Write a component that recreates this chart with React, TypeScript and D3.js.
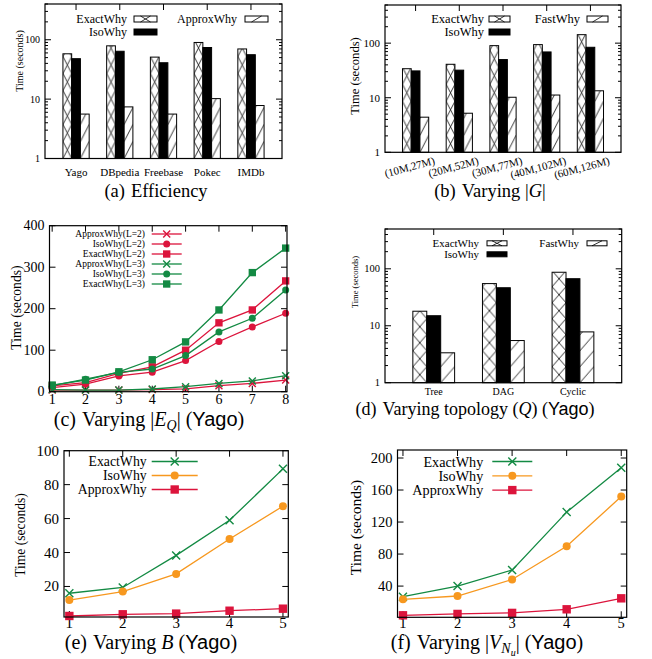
import React from "react";
import * as d3 from "d3";

// (a) efficiency per dataset
const effCats = ["Yago", "DBpedia", "Freebase", "Pokec", "IMDb"];
const effExact = [58, 79, 51, 90, 70];
const effIso = [48, 64, 41, 74, 56];
const effApprox = [5.6, 7.4, 5.6, 10.2, 7.8];

// (b) varying |G|
const sizeCats = ["(10M,27M)", "(20M,52M)", "(30M,77M)", "(40M,102M)", "(60M,126M)"];
const sizeExact = [34, 41, 90, 94, 143];
const sizeIso = [31, 32, 50, 69, 84];
const sizeFast = [4.4, 5.2, 10.2, 11.2, 13.4];

// (d) varying topology
const topoCats = ["Tree", "DAG", "Cyclic"];
const topoExact = [18, 55, 87];
const topoIso = [15, 46.5, 67];
const topoFast = [3.35, 5.5, 7.8];

// (c) varying |E_Q|
const eqSizes = [1, 2, 3, 4, 5, 6, 7, 8];
const approxL2 = [4, 4, 4, 5, 7, 14.5, 20, 28];
const isoL2 = [10, 18, 38, 47, 75, 121, 156, 189];
const exactL2 = [14, 22, 44, 60, 100, 166, 197, 267];
const approxL3 = [5, 4, 4, 6.5, 12, 20, 26, 38.5];
const isoL3 = [14.5, 30, 46.7, 54.7, 87, 144, 177, 245];
const exactL3 = [16, 28, 48, 77, 120, 197, 287, 346];

// (e) varying B
const bSteps = [1, 2, 3, 4, 5];
const bExact = [16, 19.4, 38.3, 59, 89.3];
const bIso = [12, 17, 27.4, 48, 67.3];
const bApprox = [2.6, 3.6, 4, 5.7, 6.9];

// (f) varying |V_Nu|
const vSteps = [1, 2, 3, 4, 5];
const vExact = [26.8, 40, 60, 132.4, 187.8];
const vIso = [23.5, 27.6, 48.3, 89.7, 151.8];
const vApprox = [3.5, 5.2, 6.5, 11, 24.7];

const eqTimeTicks = [0, 100, 200, 300, 400];
const bTimeTicks = [20, 40, 60, 80, 100];
const vTimeTicks = [40, 80, 120, 160, 200];

const RED = "#dc143c";
const GREEN = "#138a43";
const ORANGE = "#f7981f";
const SERIF = "'Liberation Serif', 'Times New Roman', serif";
const SANS = "'Liberation Sans', Arial, sans-serif";

type LegendSpot = { textEnd: number; swX: number; y: number };

type BarPanelProps = {
  id: string;
  cats: string[];
  series: number[][];
  names: string[];
  box: [number, number, number, number];
  yMax: number;
  xDom: [number, number];
  cellH: number;
  tickFont: number;
  catFont: number;
  catY: number;
  rotateCats?: boolean;
  yLabel: { x: number; y: number; font: number };
  legend: LegendSpot[];
  swW: number;
  swH: number;
  legendFont: number;
};

function BarPanel(p: BarPanelProps) {
  const [x0, y0, x1, y1] = p.box;
  const xs = d3.scaleLinear().domain(p.xDom).range([x0, x1]);
  const ys = d3.scaleLog().domain([1, p.yMax]).range([y1, y0]);
  const bw = 0.2;

  // log ticks: majors at decades, minors at 2..9
  const ticks: { v: number; major: boolean }[] = [];
  for (const d of [1, 10, 100]) {
    for (let k = 1; k <= 9; k++) {
      const v = k * d;
      if (v <= p.yMax) ticks.push({ v, major: k === 1 });
    }
  }

  const bars = p.cats.flatMap((c, i) =>
    p.series.map((vals, s) => {
      const a = xs(i + (s - 1.5) * bw);
      const b = xs(i + (s - 0.5) * bw);
      return { key: `${i}-${s}`, s, x: a, w: b - a, y: ys(vals[i]), h: ys(1) - ys(vals[i]) };
    })
  );

  return (
    <g>
      <defs>
        {bars
          .filter((b) => b.s !== 1)
          .map((b) => (
            <pattern
              key={b.key}
              id={`${p.id}-p${b.key}`}
              patternUnits="userSpaceOnUse"
              x={b.x}
              y={y1}
              width={b.w}
              height={p.cellH}
            >
              <rect width={b.w} height={p.cellH} fill="white" />
              <path
                d={
                  b.s === 0
                    ? `M0,0L${b.w},${p.cellH}M${b.w},0L0,${p.cellH}`
                    : `M0,${p.cellH}L${b.w},0`
                }
                stroke="black"
                strokeWidth={0.8}
                fill="none"
              />
            </pattern>
          ))}
      </defs>

      {p.cats.map((c, i) => (
        <g key={c}>
          <line x1={xs(i)} x2={xs(i)} y1={y0} y2={y0 + 6} stroke="black" />
          <line x1={xs(i)} x2={xs(i)} y1={y1} y2={y1 - 6} stroke="black" />
        </g>
      ))}

      {bars.map((b) => (
        <rect
          key={b.key}
          x={b.x}
          y={b.y}
          width={b.w}
          height={b.h}
          fill={b.s === 1 ? "black" : `url(#${p.id}-p${b.key})`}
          stroke="black"
          strokeWidth={1}
        />
      ))}

      {ticks.map((t) => (
        <g key={t.v}>
          <line x1={x0} x2={x0 + (t.major ? 6 : 3)} y1={ys(t.v)} y2={ys(t.v)} stroke="black" />
          <line x1={x1} x2={x1 - (t.major ? 6 : 3)} y1={ys(t.v)} y2={ys(t.v)} stroke="black" />
          {t.major && (
            <text
              x={x0 - 5}
              y={ys(t.v)}
              textAnchor="end"
              dominantBaseline="central"
              fontSize={p.tickFont}
            >
              {t.v}
            </text>
          )}
        </g>
      ))}

      <rect x={x0} y={y0} width={x1 - x0} height={y1 - y0} fill="none" stroke="black" strokeWidth={1.2} />

      {p.cats.map((c, i) =>
        p.rotateCats ? (
          <text
            key={c}
            transform={`translate(${xs(i) + 20},${p.catY}) rotate(-15)`}
            textAnchor="end"
            fontSize={p.catFont}
          >
            {c}
          </text>
        ) : (
          <text key={c} x={xs(i)} y={p.catY} textAnchor="middle" fontSize={p.catFont}>
            {c}
          </text>
        )
      )}

      <text
        transform={`translate(${p.yLabel.x},${p.yLabel.y}) rotate(-90)`}
        textAnchor="middle"
        dominantBaseline="central"
        fontSize={p.yLabel.font}
      >
        Time (seconds)
      </text>

      {p.names.map((n, s) => {
        const L = p.legend[s];
        const cx = L.swX + p.swW / 2;
        const top = L.y - p.swH / 2;
        const hw = Math.min(5, p.swW / 2);
        return (
          <g key={n}>
            <text x={L.textEnd} y={L.y} textAnchor="end" dominantBaseline="central" fontSize={p.legendFont}>
              {n}
            </text>
            <rect
              x={L.swX}
              y={top}
              width={p.swW}
              height={p.swH}
              fill={s === 1 ? "black" : "white"}
              stroke="black"
              strokeWidth={1}
            />
            {s === 0 && (
              <path
                d={`M${cx - hw},${top}L${cx + hw},${top + p.swH}M${cx - hw},${top + p.swH}L${cx + hw},${top}`}
                stroke="black"
                strokeWidth={0.8}
              />
            )}
            {s === 2 && (
              <path d={`M${cx - hw},${top + p.swH}L${cx + hw},${top}`} stroke="black" strokeWidth={0.8} />
            )}
          </g>
        );
      })}
    </g>
  );
}

type Mark = "x" | "circle" | "square";
type LineSeries = { name: string; vals: number[]; color: string; mark: Mark };

function Marker({ kind, x, y, size, color }: { kind: Mark; x: number; y: number; size: number; color: string }) {
  if (kind === "x") {
    const s = size / 2;
    return (
      <path
        d={`M${x - s},${y - s}L${x + s},${y + s}M${x - s},${y + s}L${x + s},${y - s}`}
        stroke={color}
        strokeWidth={1.4}
        fill="none"
      />
    );
  }
  if (kind === "circle") return <circle cx={x} cy={y} r={size / 2} fill={color} />;
  return <rect x={x - size / 2} y={y - size / 2} width={size} height={size} fill={color} />;
}

type LinePanelProps = {
  box: [number, number, number, number];
  xDom: [number, number];
  yDom: [number, number];
  xVals: number[];
  yTicks: number[];
  series: LineSeries[];
  tickFont: number;
  xLabelY: number;
  yLabel: { x: number; y: number; font: number };
  legend: { textEnd: number; lx0: number; lx1: number; y0: number; dy: number; font: number };
  mSize: number;
};

function LinePanel(p: LinePanelProps) {
  const [x0, y0, x1, y1] = p.box;
  const xs = d3.scaleLinear().domain(p.xDom).range([x0, x1]);
  const ys = d3.scaleLinear().domain(p.yDom).range([y1, y0]);
  const line = d3
    .line<number>()
    .x((d, i) => xs(p.xVals[i]))
    .y((d) => ys(d));
  const mk = (m: Mark) => (m === "square" ? p.mSize * 1.05 : p.mSize);

  return (
    <g>
      {p.xVals.map((v) => (
        <g key={v}>
          <line x1={xs(v)} x2={xs(v)} y1={y1} y2={y1 - 6} stroke="black" />
          <line x1={xs(v)} x2={xs(v)} y1={y0} y2={y0 + 6} stroke="black" />
          <text x={xs(v)} y={p.xLabelY} textAnchor="middle" fontSize={p.tickFont}>
            {v}
          </text>
        </g>
      ))}
      {p.yTicks.map((v) => (
        <g key={v}>
          <line x1={x0} x2={x0 + 6} y1={ys(v)} y2={ys(v)} stroke="black" />
          <line x1={x1} x2={x1 - 6} y1={ys(v)} y2={ys(v)} stroke="black" />
          <text x={x0 - 5} y={ys(v)} textAnchor="end" dominantBaseline="central" fontSize={p.tickFont}>
            {v}
          </text>
        </g>
      ))}

      {p.series.map((s) => (
        <g key={s.name}>
          <path d={line(s.vals) || ""} fill="none" stroke={s.color} strokeWidth={1.3} />
          {s.vals.map((v, i) => (
            <Marker key={i} kind={s.mark} x={xs(p.xVals[i])} y={ys(v)} size={mk(s.mark)} color={s.color} />
          ))}
        </g>
      ))}

      <rect x={x0} y={y0} width={x1 - x0} height={y1 - y0} fill="none" stroke="black" strokeWidth={1.2} />

      <text
        transform={`translate(${p.yLabel.x},${p.yLabel.y}) rotate(-90)`}
        textAnchor="middle"
        dominantBaseline="central"
        fontSize={p.yLabel.font}
      >
        Time (seconds)
      </text>

      {p.series.map((s, i) => {
        const y = p.legend.y0 + i * p.legend.dy;
        return (
          <g key={s.name}>
            <text x={p.legend.textEnd} y={y} textAnchor="end" dominantBaseline="central" fontSize={p.legend.font}>
              {s.name}
            </text>
            <line x1={p.legend.lx0} x2={p.legend.lx1} y1={y} y2={y} stroke={s.color} strokeWidth={1.3} />
            <Marker kind={s.mark} x={(p.legend.lx0 + p.legend.lx1) / 2} y={y} size={mk(s.mark)} color={s.color} />
          </g>
        );
      })}
    </g>
  );
}

export default function App() {
  return (
    <svg
      width={652}
      height={659}
      style={{ position: "absolute", left: 0, top: 0, background: "white" }}
      fontFamily={SERIF}
    >
      <rect width={652} height={659} fill="white" />

      <BarPanel
        id="a"
        cats={effCats}
        series={[effExact, effIso, effApprox]}
        names={["ExactWhy", "IsoWhy", "ApproxWhy"]}
        box={[45, 4, 282, 158.5]}
        yMax={400}
        xDom={[-0.71, 4.71]}
        cellH={17}
        tickFont={10}
        catFont={11}
        catY={176}
        yLabel={{ x: 19, y: 61, font: 10 }}
        legend={[
          { textEnd: 127, swX: 134, y: 19 },
          { textEnd: 127, swX: 134, y: 32 },
          { textEnd: 237, swX: 245, y: 19 },
        ]}
        swW={23}
        swH={6}
        legendFont={12}
      />

      <BarPanel
        id="b"
        cats={sizeCats}
        series={[sizeExact, sizeIso, sizeFast]}
        names={["ExactWhy", "IsoWhy", "FastWhy"]}
        box={[385, 5, 621, 152.3]}
        yMax={500}
        xDom={[-0.7, 4.7]}
        cellH={17}
        tickFont={11}
        catFont={11}
        catY={164}
        rotateCats
        yLabel={{ x: 355, y: 76, font: 12.6 }}
        legend={[
          { textEnd: 484, swX: 489, y: 19 },
          { textEnd: 484, swX: 489, y: 32 },
          { textEnd: 580, swX: 587, y: 19 },
        ]}
        swW={21}
        swH={6}
        legendFont={12.5}
      />

      <BarPanel
        id="d"
        cats={topoCats}
        series={[topoExact, topoIso, topoFast]}
        names={["ExactWhy", "IsoWhy", "FastWhy"]}
        box={[385, 229, 621.7, 382.7]}
        yMax={500}
        xDom={[-0.7, 2.7]}
        cellH={16}
        tickFont={10.5}
        catFont={10}
        catY={395}
        yLabel={{ x: 355, y: 282, font: 8.5 }}
        legend={[
          { textEnd: 479, swX: 487, y: 243.3 },
          { textEnd: 479, swX: 487, y: 254.3 },
          { textEnd: 579, swX: 587, y: 243.3 },
        ]}
        swW={20}
        swH={5}
        legendFont={11}
      />

      <LinePanel
        box={[49.5, 225.7, 287, 391.7]}
        xDom={[0.92, 8.04]}
        yDom={[0, 400]}
        xVals={eqSizes}
        yTicks={eqTimeTicks}
        series={[
          { name: "ApproxWhy(L=2)", vals: approxL2, color: RED, mark: "x" },
          { name: "IsoWhy(L=2)", vals: isoL2, color: RED, mark: "circle" },
          { name: "ExactWhy(L=2)", vals: exactL2, color: RED, mark: "square" },
          { name: "ApproxWhy(L=3)", vals: approxL3, color: GREEN, mark: "x" },
          { name: "IsoWhy(L=3)", vals: isoL3, color: GREEN, mark: "circle" },
          { name: "ExactWhy(L=3)", vals: exactL3, color: GREEN, mark: "square" },
        ]}
        tickFont={14}
        xLabelY={404}
        yLabel={{ x: 16.7, y: 307.5, font: 13.7 }}
        legend={{ textEnd: 145, lx0: 151.7, lx1: 181.7, y0: 234, dy: 10, font: 9.5 }}
        mSize={7}
      />

      <LinePanel
        box={[64, 450.7, 288.3, 617]}
        xDom={[0.9, 5.1]}
        yDom={[2, 100]}
        xVals={bSteps}
        yTicks={bTimeTicks}
        series={[
          { name: "ExactWhy", vals: bExact, color: GREEN, mark: "x" },
          { name: "IsoWhy", vals: bIso, color: ORANGE, mark: "circle" },
          { name: "ApproxWhy", vals: bApprox, color: RED, mark: "square" },
        ]}
        tickFont={15}
        xLabelY={628}
        yLabel={{ x: 20.7, y: 535, font: 13.6 }}
        legend={{ textEnd: 146.7, lx0: 151.7, lx1: 197.7, y0: 461.5, dy: 14, font: 13.8 }}
        mSize={8}
      />

      <LinePanel
        box={[397.5, 450, 626.7, 617.3]}
        xDom={[0.9, 5.1]}
        yDom={[1, 210]}
        xVals={vSteps}
        yTicks={vTimeTicks}
        series={[
          { name: "ExactWhy", vals: vExact, color: GREEN, mark: "x" },
          { name: "IsoWhy", vals: vIso, color: ORANGE, mark: "circle" },
          { name: "ApproxWhy", vals: vApprox, color: RED, mark: "square" },
        ]}
        tickFont={14.5}
        xLabelY={628}
        yLabel={{ x: 355, y: 527.5, font: 15.5 }}
        legend={{ textEnd: 483.3, lx0: 492.3, lx1: 532.3, y0: 461.5, dy: 14.3, font: 14.2 }}
        mSize={8}
      />

      {/* captions */}
      <text x={156} y={197} textAnchor="middle" fontSize={18.5}>
        {"(a)"}
        <tspan dx={6}>Efficiency</tspan>
      </text>
      <text x={490} y={197} textAnchor="middle" fontSize={18.5}>
        {"(b)"}
        <tspan dx={6}>{"Varying |"}</tspan>
        <tspan fontStyle="italic">G</tspan>
        <tspan>|</tspan>
      </text>
      <text x={149} y={426} textAnchor="middle" fontSize={20}>
        {"(c)"}
        <tspan dx={6}>{"Varying |"}</tspan>
        <tspan fontStyle="italic">E</tspan>
        <tspan fontStyle="italic" fontSize={14} dy={4}>
          Q
        </tspan>
        <tspan dy={-4}>{"| ("}</tspan>
        <tspan fontFamily={SANS}>Yago</tspan>
        <tspan>)</tspan>
      </text>
      <text x={475} y={415} textAnchor="middle" fontSize={18}>
        {"(d)"}
        <tspan dx={6}>{"Varying topology ("}</tspan>
        <tspan fontStyle="italic">Q</tspan>
        <tspan>{") ("}</tspan>
        <tspan fontFamily={SANS}>Yago</tspan>
        <tspan>)</tspan>
      </text>
      <text x={151} y={649} textAnchor="middle" fontSize={20}>
        {"(e)"}
        <tspan dx={6}>{"Varying "}</tspan>
        <tspan fontStyle="italic">B</tspan>
        <tspan>{" ("}</tspan>
        <tspan fontFamily={SANS}>Yago</tspan>
        <tspan>)</tspan>
      </text>
      <text x={487} y={649} textAnchor="middle" fontSize={20}>
        {"(f)"}
        <tspan dx={6}>{"Varying |"}</tspan>
        <tspan fontStyle="italic">V</tspan>
        <tspan fontStyle="italic" fontSize={14} dy={4}>
          N
        </tspan>
        <tspan fontStyle="italic" fontSize={10} dy={3}>
          u
        </tspan>
        <tspan dy={-7}>{"| ("}</tspan>
        <tspan fontFamily={SANS}>Yago</tspan>
        <tspan>)</tspan>
      </text>
    </svg>
  );
}
